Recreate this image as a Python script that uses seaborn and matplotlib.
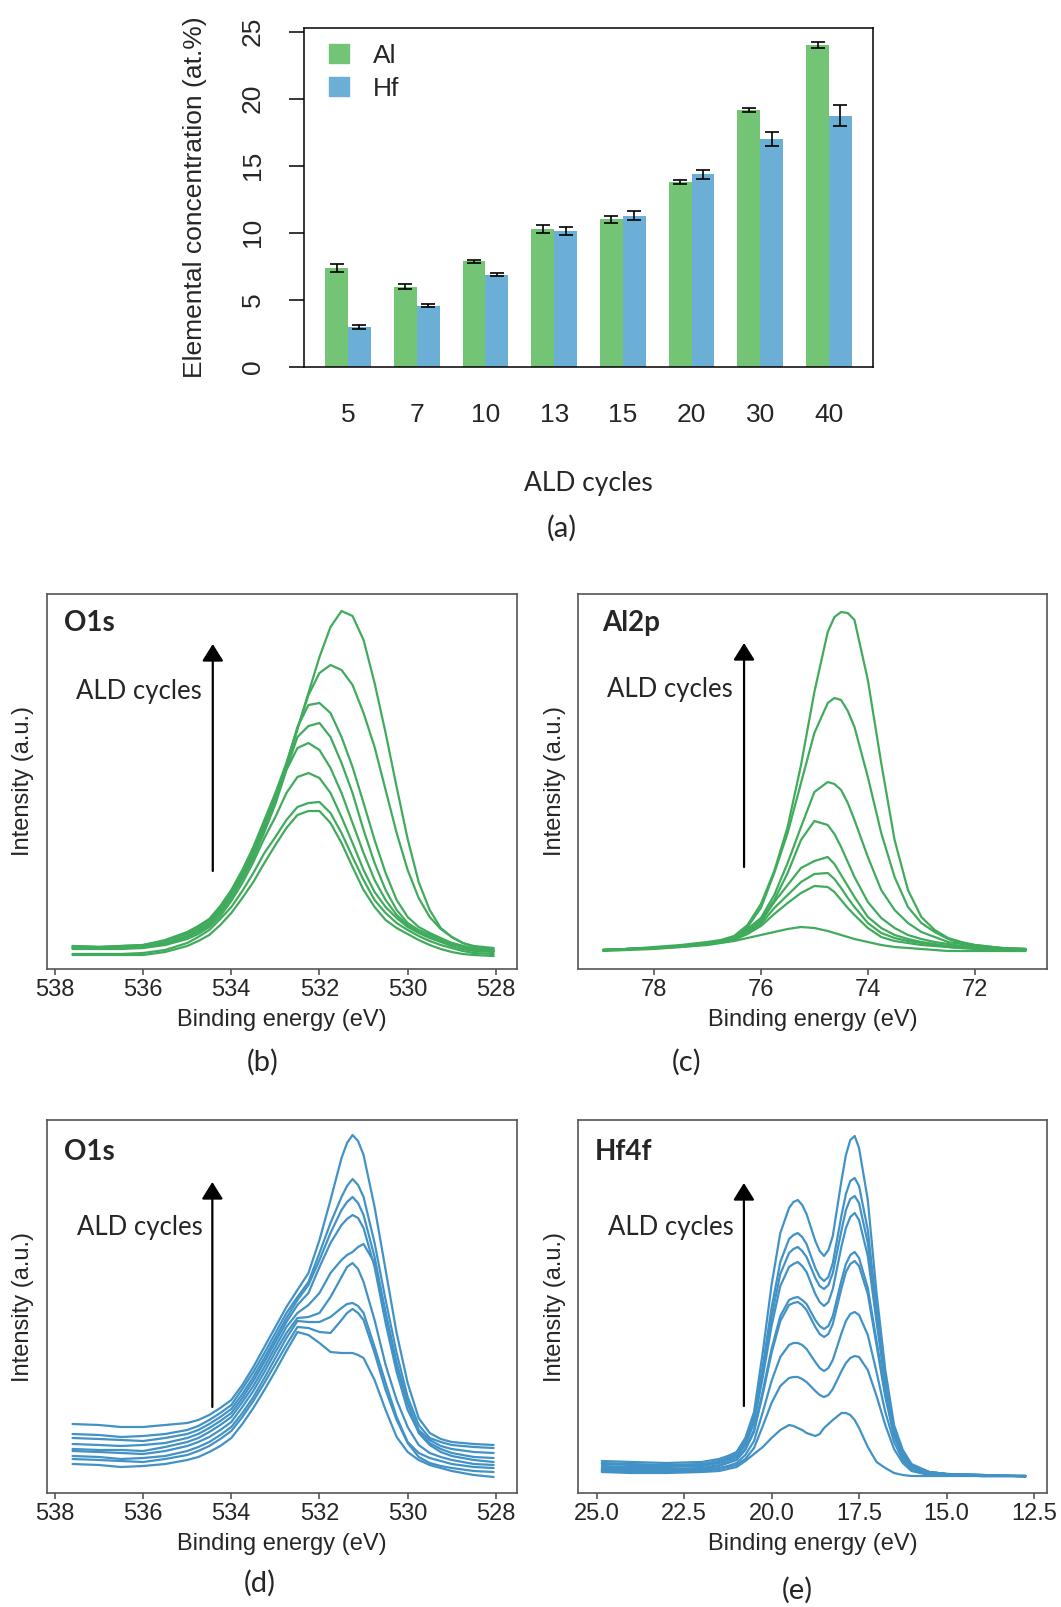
import matplotlib
matplotlib.use("Agg")
import matplotlib.pyplot as plt
import numpy as np
import pandas as pd
import seaborn as sns
from matplotlib.patches import Patch

# ---------------- data: panel (a) ----------------
cycles = ["5", "7", "10", "13", "15", "20", "30", "40"]
al_conc = [7.41, 5.99, 7.88, 10.30, 11.00, 13.80, 19.16, 23.99]
al_err = [0.30, 0.20, 0.12, 0.30, 0.25, 0.15, 0.15, 0.20]
hf_conc = [2.96, 4.58, 6.87, 10.15, 11.28, 14.36, 16.97, 18.74]
hf_err = [0.15, 0.10, 0.10, 0.32, 0.32, 0.32, 0.52, 0.81]
elements = ["Al", "Hf"]

# ---------------- data: panel (b) O1s (Al2O3 series) ----------------
b_energy = [537.6, 537.0, 536.5, 536.0, 535.5, 535.0, 534.75, 534.5, 534.25, 534.0,
            533.75, 533.5, 533.25, 533.0, 532.75, 532.5, 532.25, 532.0, 531.75, 531.5,
            531.25, 531.0, 530.75, 530.5, 530.25, 530.0, 529.75, 529.5, 529.25, 529.0,
            528.75, 528.5, 528.05]
b_curves = [
    [19, 19, 19, 19, 22, 28, 33, 39, 49, 61, 76, 92, 111, 129, 146, 159, 163, 163, 151, 131, 107, 84, 67, 54, 46, 40, 34, 29, 25, 22, 20, 19, 18],
    [20, 20, 20, 21, 24, 31, 37, 44, 55, 67, 83, 101, 121, 137, 154, 167, 171, 172, 161, 141, 117, 94, 74, 61, 51, 44, 38, 33, 29, 26, 23, 21, 20],
    [25, 25, 25, 26, 29, 35, 40, 47, 58, 73, 91, 112, 136, 157, 181, 197, 201, 196, 181, 157, 131, 104, 82, 67, 56, 47, 41, 36, 32, 28, 25, 23, 22],
    [26, 26, 26, 27, 30, 37, 42, 49, 61, 76, 95, 116, 142, 170, 204, 226, 231, 224, 206, 181, 151, 121, 94, 74, 59, 49, 42, 37, 33, 30, 27, 24, 23],
    [26, 26, 26, 27, 31, 38, 43, 50, 63, 78, 97, 118, 145, 172, 205, 237, 248, 251, 237, 211, 181, 144, 111, 84, 64, 51, 44, 39, 35, 31, 28, 25, 23],
    [27, 27, 27, 28, 33, 40, 45, 52, 65, 80, 99, 121, 148, 176, 210, 247, 269, 271, 261, 237, 207, 171, 134, 101, 74, 57, 47, 41, 36, 31, 28, 25, 24],
    [28, 27, 28, 29, 33, 41, 47, 54, 67, 82, 102, 124, 151, 178, 208, 245, 279, 301, 309, 304, 289, 261, 227, 184, 141, 104, 76, 57, 45, 37, 31, 27, 25],
    [28, 27, 28, 29, 34, 42, 48, 55, 68, 84, 104, 127, 154, 181, 211, 245, 281, 317, 347, 363, 358, 334, 291, 241, 187, 135, 92, 64, 46, 37, 31, 28, 26],
]

# ---------------- data: panel (c) Al2p ----------------
c_energy = [78.95, 78.5, 78.0, 77.5, 77.0, 76.75, 76.5, 76.25, 76.0, 75.75, 75.5, 75.25,
            75.0, 74.75, 74.625, 74.5, 74.375, 74.25, 74.0, 73.75, 73.5, 73.25, 73.0,
            72.75, 72.5, 72.25, 72.0, 71.5, 71.05]
c_curves = [
    [23, 24, 25, 27, 29, 31, 33, 36, 39, 42, 45, 47, 46, 43, 41, 39, 37, 35, 32, 29, 27, 26, 25, 24, 23, 23, 23, 23, 23],
    [24, 25, 26, 27, 30, 32, 34, 40, 48, 60, 71, 81, 88, 87, 82, 74, 66, 59, 46, 37, 33, 31, 29, 28, 27, 26, 25, 24, 24],
    [24, 25, 26, 28, 30, 32, 35, 42, 50, 66, 79, 92, 100, 101, 95, 86, 76, 67, 51, 41, 36, 33, 31, 29, 27, 26, 26, 25, 24],
    [24, 25, 26, 28, 31, 33, 36, 43, 52, 72, 89, 106, 113, 117, 110, 99, 88, 77, 57, 46, 39, 35, 32, 30, 28, 27, 26, 25, 24],
    [24, 25, 26, 28, 31, 33, 36, 44, 54, 74, 101, 134, 153, 149, 140, 127, 112, 97, 72, 56, 46, 39, 35, 32, 30, 28, 27, 25, 24],
    [24, 25, 26, 28, 31, 33, 37, 45, 56, 79, 111, 147, 182, 192, 190, 184, 171, 154, 117, 84, 64, 51, 42, 37, 32, 30, 28, 26, 25],
    [24, 25, 26, 28, 31, 33, 37, 47, 66, 101, 141, 191, 241, 271, 276, 274, 263, 247, 197, 141, 97, 67, 51, 42, 35, 31, 29, 26, 25],
    [24, 25, 27, 29, 32, 34, 38, 49, 70, 103, 147, 209, 282, 342, 357, 362, 361, 354, 294, 211, 134, 84, 57, 44, 36, 32, 29, 26, 25],
]

# ---------------- data: panel (d) O1s (HfO2 series) ----------------
d_energy = [537.6, 537.0, 536.5, 536.0, 535.5, 535.0, 534.75, 534.5, 534.25, 534.0, 533.75,
            533.5, 533.25, 533.0, 532.75, 532.5, 532.25, 532.0, 531.75, 531.5, 531.375,
            531.25, 531.125, 531.0, 530.75, 530.5, 530.25, 530.0, 529.75, 529.5, 529.25,
            529.0, 528.5, 528.05]
d_curves = [
    [34, 33, 31, 32, 34, 38, 41, 46, 52, 60, 74, 90, 108, 127, 147, 166, 163, 155, 146, 145, 145, 145, 143, 140, 118, 88, 61, 46, 38, 33, 30, 27, 23, 21],
    [39, 38, 37, 36, 39, 43, 47, 52, 59, 67, 81, 97, 115, 134, 153, 171, 170, 166, 165, 178, 185, 189, 185, 178, 145, 108, 78, 55, 41, 35, 32, 30, 27, 26],
    [42, 41, 39, 40, 42, 47, 51, 56, 63, 71, 85, 101, 120, 140, 160, 177, 176, 176, 181, 190, 194, 195, 192, 185, 151, 115, 81, 56, 45, 40, 37, 34, 31, 30],
    [47, 46, 45, 44, 47, 52, 56, 61, 68, 76, 91, 107, 126, 146, 165, 180, 181, 185, 201, 221, 231, 235, 229, 216, 178, 133, 98, 71, 53, 45, 41, 38, 34, 33],
    [49, 48, 48, 47, 51, 56, 60, 66, 73, 81, 96, 112, 131, 151, 171, 185, 193, 205, 225, 238, 243, 246, 251, 254, 235, 185, 135, 95, 65, 53, 46, 42, 38, 36],
    [54, 53, 52, 53, 55, 60, 64, 70, 77, 85, 100, 117, 136, 156, 176, 193, 205, 231, 255, 273, 279, 283, 280, 270, 231, 175, 126, 88, 66, 55, 49, 45, 41, 40],
    [60, 59, 58, 57, 60, 64, 68, 74, 81, 89, 104, 121, 140, 160, 180, 198, 213, 238, 265, 288, 296, 301, 295, 283, 241, 185, 133, 95, 68, 58, 52, 49, 46, 45],
    [64, 63, 61, 62, 64, 68, 72, 78, 85, 93, 109, 126, 145, 165, 185, 201, 216, 245, 275, 301, 312, 319, 313, 301, 255, 198, 145, 101, 73, 60, 56, 53, 51, 50],
    [74, 73, 71, 71, 73, 75, 78, 83, 90, 98, 113, 131, 151, 171, 191, 208, 225, 258, 298, 340, 355, 363, 357, 343, 291, 228, 165, 115, 80, 65, 59, 56, 54, 53],
]

# ---------------- data: panel (e) Hf4f ----------------
e_energy = [24.85, 24.0, 23.0, 22.0, 21.5, 21.25, 21.0, 20.75, 20.5, 20.25, 20.0, 19.75,
            19.5, 19.375, 19.25, 19.125, 19.0, 18.75, 18.625, 18.5, 18.375, 18.25, 18.0,
            17.875, 17.75, 17.625, 17.5, 17.25, 17.0, 16.75, 16.5, 16.25, 16.0, 15.5,
            15.0, 14.0, 13.0, 12.75]
e_curves = [
    [26, 25, 25, 26, 27, 29, 31, 37, 44, 51, 60, 68, 73, 72, 70, 68, 65, 62, 64, 70, 74, 78, 85, 85, 83, 78, 70, 51, 36, 30, 25, 23, 22, 22, 22, 22, 22, 21],
    [27, 26, 26, 27, 29, 31, 33, 39, 50, 72, 95, 112, 120, 121, 121, 119, 116, 107, 103, 101, 103, 109, 127, 135, 140, 142, 141, 128, 102, 73, 49, 35, 27, 23, 23, 22, 22, 22],
    [28, 27, 27, 28, 30, 32, 35, 43, 57, 86, 117, 141, 153, 155, 155, 153, 149, 136, 130, 127, 130, 138, 165, 177, 184, 186, 183, 163, 126, 86, 56, 38, 29, 24, 23, 22, 22, 22],
    [29, 29, 28, 29, 32, 35, 38, 48, 66, 104, 145, 177, 193, 195, 196, 193, 188, 171, 164, 161, 164, 174, 210, 226, 234, 237, 232, 204, 153, 101, 62, 41, 30, 25, 23, 22, 22, 22],
    [30, 30, 29, 30, 33, 36, 39, 49, 68, 107, 149, 182, 198, 200, 201, 198, 194, 178, 172, 169, 172, 182, 218, 234, 243, 246, 240, 210, 157, 104, 63, 42, 31, 25, 23, 22, 22, 22],
    [32, 31, 31, 32, 35, 38, 41, 53, 75, 121, 172, 212, 231, 234, 236, 232, 226, 204, 196, 192, 196, 209, 252, 270, 281, 285, 278, 242, 176, 113, 67, 44, 32, 26, 24, 23, 22, 22],
    [34, 33, 32, 33, 36, 39, 43, 55, 78, 127, 181, 224, 245, 249, 251, 247, 241, 220, 212, 209, 213, 225, 268, 288, 299, 302, 295, 255, 183, 117, 69, 45, 33, 26, 24, 23, 22, 22],
    [35, 34, 33, 34, 37, 40, 44, 57, 81, 132, 190, 236, 259, 263, 265, 261, 254, 230, 221, 217, 221, 235, 283, 304, 317, 320, 312, 268, 190, 120, 70, 46, 33, 26, 24, 23, 22, 22],
    [37, 36, 35, 36, 39, 42, 46, 60, 86, 146, 213, 265, 290, 296, 298, 293, 284, 257, 247, 242, 248, 262, 318, 343, 358, 362, 350, 298, 205, 128, 73, 48, 34, 26, 24, 23, 22, 22],
]

b_ticks = [538, 536, 534, 532, 530, 528]
c_ticks = [78, 76, 74, 72]
e_ticks = [25.0, 22.5, 20.0, 17.5, 15.0, 12.5]

for en, cs in [(b_energy, b_curves), (c_energy, c_curves), (d_energy, d_curves), (e_energy, e_curves)]:
    for c in cs:
        assert len(c) == len(en), (len(c), len(en))

# ---------------- style ----------------
sns.set_theme(style="white")
plt.rcParams["font.family"] = ["Liberation Sans", "DejaVu Sans"]
CAL = ["Lato", "DejaVu Sans"]

BAR_GREEN = "#74C476"
BAR_BLUE = "#6BAED6"
LINE_GREEN = "#41AB5D"
LINE_BLUE = "#4292C6"
FRAME = "#555555"

W, H = 1061, 1607
fig = plt.figure(figsize=(W / 100, H / 100), dpi=100)


def rect(l, t, r, b):
    return [l / W, 1 - b / H, (r - l) / W, (b - t) / H]


# ---------------- panel (a) ----------------
axa = fig.add_axes(rect(304, 28, 873, 367))
df_a = pd.DataFrame({
    "cycles": cycles * 2,
    "conc": al_conc + hf_conc,
    "element": [elements[0]] * len(cycles) + [elements[1]] * len(cycles),
})
sns.barplot(data=df_a, x="cycles", y="conc", hue="element", order=cycles,
            hue_order=elements, palette=[BAR_GREEN, BAR_BLUE], width=2 / 3,
            gap=0, errorbar=None, saturation=1, linewidth=0, ax=axa)
for cont, vals, errs in zip(axa.containers, [al_conc, hf_conc], [al_err, hf_err]):
    xs = [p.get_x() + p.get_width() / 2 for p in cont.patches]
    axa.errorbar(xs, vals, yerr=errs, fmt="none", ecolor="black",
                 elinewidth=1.2, capsize=5, capthick=1.2, zorder=5)

axa.set_xlim(-0.64, 7.64)
axa.set_ylim(0, 25.27)
axa.set_yticks([0, 5, 10, 15, 20, 25])
axa.set_yticklabels(["0", "5", "10", "15", "20", "25"], rotation=90,
                    va="center", ha="right")
for s in axa.spines.values():
    s.set_color("black")
    s.set_linewidth(1.1)
axa.tick_params(axis="y", direction="out", length=11, width=1.1,
                color="black", labelsize=19, pad=17, left=True)
axa.tick_params(axis="x", length=0, labelsize=19, pad=26)
axa.set_xlabel("ALD cycles", fontsize=19, family=CAL, va="center")
axa.xaxis.set_label_coords(0.5, (367 - 484) / 339)
axa.set_ylabel("Elemental concentration (at.%)", fontsize=19, va="center")
axa.yaxis.set_label_coords((195 - 304) / 569, 0.5)
leg = axa.legend(handles=[Patch(color=BAR_GREEN), Patch(color=BAR_BLUE)],
                 labels=elements, loc="upper left", bbox_to_anchor=(0.044, 0.953),
                 frameon=False, fontsize=19, handlelength=0.76, handleheight=0.72,
                 handletextpad=0.9, labelspacing=0.33, borderpad=0, borderaxespad=0)


# ---------------- spectra panels ----------------
def spectra(box, energy, curves, color, xlim, ylim, ticks, ticklabels, core,
            core_xy, arrow_x, arrow_y, text_xy):
    l, t, r, b = box
    ax = fig.add_axes(rect(l, t, r, b))
    rows = []
    for k, c in enumerate(curves):
        for e, v in zip(energy, c):
            rows.append((k, e, v))
    df = pd.DataFrame(rows, columns=["curve", "E", "I"])
    sns.lineplot(data=df, x="E", y="I", units="curve", estimator=None,
                 sort=False, color=color, linewidth=1.6, ax=ax)
    for ln in ax.get_lines():
        ln.set_solid_joinstyle("round")
        ln.set_solid_capstyle("round")
    ax.set_xlim(*xlim)
    ax.set_ylim(*ylim)
    ax.set_yticks([])
    ax.set_xticks(ticks)
    ax.set_xticklabels(ticklabels)
    for s in ax.spines.values():
        s.set_color(FRAME)
        s.set_linewidth(1.2)
    ax.tick_params(axis="x", direction="out", length=4.5, width=1.2,
                   color=FRAME, labelsize=17, pad=2.5, bottom=True)
    ax.set_xlabel("Binding energy (eV)", fontsize=17, va="center")
    ax.xaxis.set_label_coords(0.5, -51 / (b - t))
    ax.set_ylabel("Intensity (a.u.)", fontsize=17, va="center")
    ax.yaxis.set_label_coords(-23.5 / (r - l), 0.5)
    ax.text(core_xy[0], core_xy[1], core, fontsize=20, fontweight="bold",
            family=CAL, ha="left", va="center")
    ax.annotate("", xy=(arrow_x, arrow_y[1]), xytext=(arrow_x, arrow_y[0]),
                arrowprops=dict(arrowstyle="-|>,head_length=0.4,head_width=0.25",
                                mutation_scale=26, lw=1.6, color="black",
                                shrinkA=0, shrinkB=0))
    ax.text(text_xy[0], text_xy[1], "ALD cycles", fontsize=18.5, family=CAL,
            ha="right", va="center")
    return ax


spectra((47, 594, 517, 969), b_energy, b_curves, LINE_GREEN, (538.18, 527.52), (5, 380),
        b_ticks, [str(v) for v in b_ticks], "O1s", (537.79, 351), 534.42, (103, 330),
        (534.66, 282))
spectra((578, 594, 1047, 969), c_energy, c_curves, LINE_GREEN, (79.42, 70.65), (5, 380),
        c_ticks, [str(v) for v in c_ticks], "Al2p", (78.97, 351), 76.315, (107, 331),
        (76.52, 284))
spectra((47, 1120, 517, 1493), d_energy, d_curves, LINE_BLUE, (538.18, 527.52), (5, 378),
        b_ticks, [str(v) for v in b_ticks], "O1s", (537.79, 346), 534.43, (91, 316),
        (534.64, 270))
spectra((578, 1120, 1047, 1493), e_energy, e_curves, LINE_BLUE, (25.53, 12.13), (5, 378),
        e_ticks, [f"{v:.1f}" for v in e_ticks], "Hf4f", (25.05, 346), 20.79, (92, 315),
        (21.09, 270))

# ---------------- panel letters ----------------
for lab, x, y in [("(a)", 562, 528), ("(b)", 263, 1062), ("(c)", 687, 1062),
                  ("(d)", 260, 1583), ("(e)", 797, 1590)]:
    fig.text(x / W, 1 - y / H, lab, fontsize=21, family=CAL, ha="center", va="center")

fig.savefig("out.png", dpi=100, facecolor="white")
